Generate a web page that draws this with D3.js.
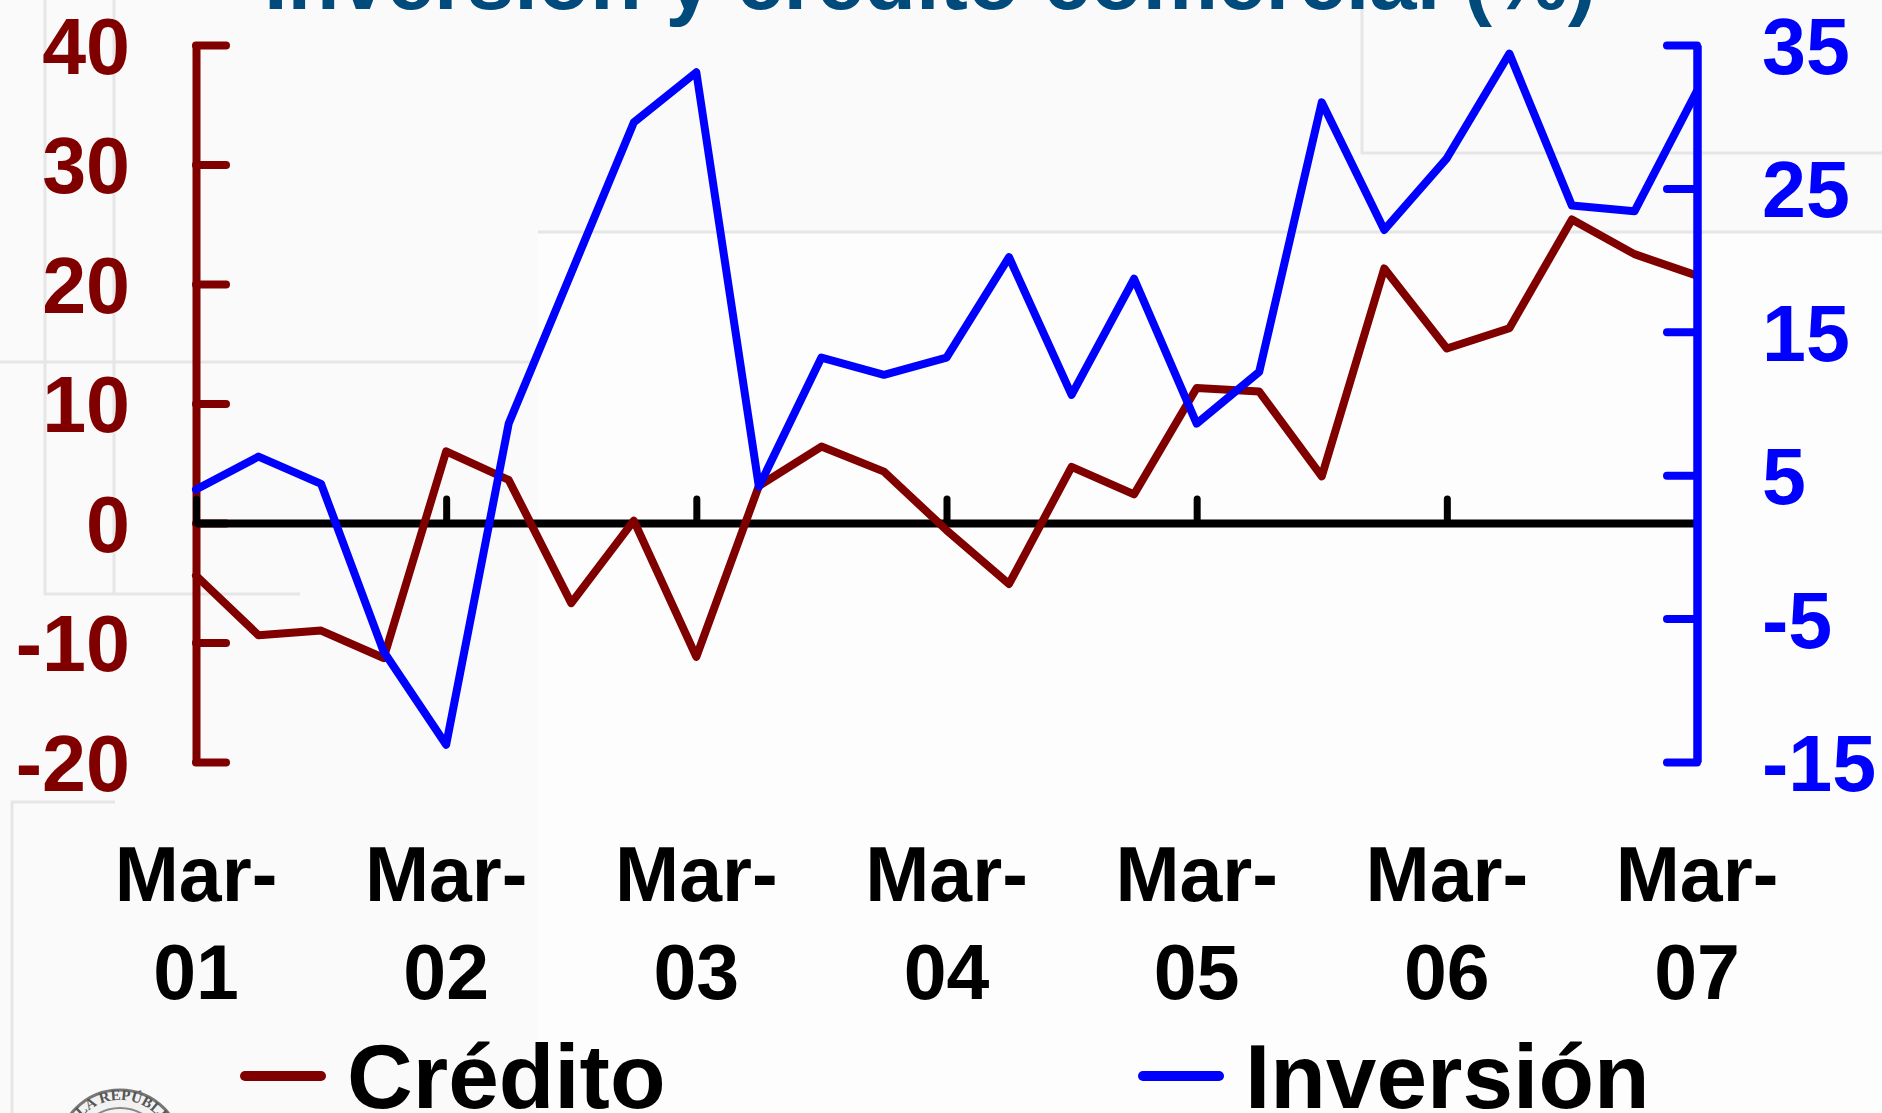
<!DOCTYPE html>
<html>
<head>
<meta charset="utf-8">
<script src="https://cdn.jsdelivr.net/npm/d3@7"></script>
<style>
  html, body { margin: 0; padding: 0; background: #fafafa; overflow: hidden; }
  svg { display: block; font-family: "Liberation Sans", Arial, sans-serif; font-weight: bold; }
</style>
</head>
<body>
<div id="container"></div>
<script>
const WIDTH = 1882;
const HEIGHT = 1113;

// quarterly, Mar-01 .. Mar-07
const quarters = [
  'Mar-01', 'Jun-01', 'Sep-01', 'Dic-01',
  'Mar-02', 'Jun-02', 'Sep-02', 'Dic-02',
  'Mar-03', 'Jun-03', 'Sep-03', 'Dic-03',
  'Mar-04', 'Jun-04', 'Sep-04', 'Dic-04',
  'Mar-05', 'Jun-05', 'Sep-05', 'Dic-05',
  'Mar-06', 'Jun-06', 'Sep-06', 'Dic-06',
  'Mar-07'
];

// Crédito comercial (%), left axis
const credito = [
  -4.4, -9.4, -9.0, -11.3,
  6.0, 3.6, -6.7, 0.2,
  -11.2, 3.1, 6.4, 4.3,
  -0.6, -5.1, 4.7, 2.4,
  11.3, 11.0, 3.9, 21.3,
  14.6, 16.3, 25.4, 22.5,
  20.7
];

// Inversión (%), right axis
const inversion = [
  4.0, 6.3, 4.4, -7.3,
  -13.8, 8.6, 19.1, 29.6,
  33.1, 4.2, 13.2, 12.0,
  13.2, 20.2, 10.6, 18.7,
  8.6, 12.2, 31.0, 22.1,
  27.1, 34.4, 23.8, 23.4,
  31.8
];

const leftTicks = [-20, -10, 0, 10, 20, 30, 40];
const rightTicks = [-15, -5, 5, 15, 25, 35];
const yearTicks = quarters.filter(q => q.startsWith('Mar'));

const title = 'Inversión y crédito comercial (%)';
const seriesNames = ['Crédito', 'Inversión'];

const RED = '#800000';
const BLUE = '#0000ff';

// plain hyphen for negatives, like the original
const fmt = d => String(d);

const svg = d3.select('#container')
  .append('svg')
  .attr('width', WIDTH)
  .attr('height', HEIGHT)
  .style('background-color', '#fafafa');

// faint slide background boxes
const bg = svg.append('g')
  .attr('fill', 'none')
  .attr('stroke', '#e6e6e6')
  .attr('stroke-width', 3);
bg.append('rect').attr('x', 538).attr('y', 232).attr('width', 1400).attr('height', 900)
  .attr('fill', '#fdfdfd').attr('stroke', 'none');
bg.append('path').attr('d', 'M538,232H1882');
bg.append('path').attr('d', 'M0,362H538');
bg.append('path').attr('d', 'M45,0V594H300');
bg.append('path').attr('d', 'M114,0V594');
bg.append('path').attr('d', 'M1362,0V153H1882');
bg.append('path').attr('d', 'M12,1113V802H115');

const x = d3.scalePoint()
  .domain(quarters)
  .range([196, 1697]);

const yLeft = d3.scaleLinear()
  .domain([-20, 40])
  .range([762, 45]);

const yRight = d3.scaleLinear()
  .domain([-15, 35])
  .range([762, 45]);

// title, mostly cut off at the top
svg.append('text')
  .attr('x', 930)
  .attr('y', 9)
  .attr('text-anchor', 'middle')
  .attr('font-size', 85)
  .attr('fill', '#004b7c')
  .text(title);

// left axis (ticks point inward)
const leftAxis = svg.append('g')
  .attr('transform', `translate(${x(quarters[0])},0)`)
  .call(d3.axisRight(yLeft).tickValues(leftTicks).tickSize(30).tickSizeOuter(0).tickFormat(fmt));
leftAxis.select('.domain').attr('stroke', RED).attr('stroke-width', 8);
leftAxis.selectAll('.tick line').attr('stroke', RED).attr('stroke-width', 8).attr('stroke-linecap', 'round');
leftAxis.selectAll('.tick text')
  .attr('x', -66)
  .attr('dy', '0.36em')
  .attr('text-anchor', 'end')
  .attr('font-family', '"Liberation Sans", Arial, sans-serif')
  .attr('font-weight', 'bold')
  .attr('font-size', 79)
  .attr('fill', RED);

// x axis at zero
const xAxis = svg.append('g')
  .attr('transform', `translate(0,${yLeft(0)})`)
  .call(d3.axisTop(x).tickValues(yearTicks).tickSize(24).tickSizeOuter(0).tickFormat(''));
xAxis.select('.domain').attr('stroke', 'black').attr('stroke-width', 8);
xAxis.selectAll('.tick line').attr('stroke', 'black').attr('stroke-width', 7).attr('stroke-linecap', 'round');

const xLabels = svg.append('g').selectAll('text')
  .data(yearTicks)
  .join('text')
  .attr('text-anchor', 'middle')
  .attr('font-size', 77)
  .attr('fill', 'black');
xLabels.append('tspan')
  .attr('x', d => x(d))
  .attr('y', 901)
  .text(d => d.slice(0, 4));
xLabels.append('tspan')
  .attr('x', d => x(d))
  .attr('y', 999)
  .text(d => d.slice(4));

// lines
const lineLeft = d3.line()
  .x((d, i) => x(quarters[i]))
  .y(d => yLeft(d));

const lineRight = d3.line()
  .x((d, i) => x(quarters[i]))
  .y(d => yRight(d));

svg.append('path')
  .datum(credito)
  .attr('d', lineLeft)
  .attr('fill', 'none')
  .attr('stroke', RED)
  .attr('stroke-width', 8)
  .attr('stroke-linejoin', 'round')
  .attr('stroke-linecap', 'round');

svg.append('path')
  .datum(inversion)
  .attr('d', lineRight)
  .attr('fill', 'none')
  .attr('stroke', BLUE)
  .attr('stroke-width', 8)
  .attr('stroke-linejoin', 'round')
  .attr('stroke-linecap', 'round');

// right axis (ticks point inward)
const rightAxis = svg.append('g')
  .attr('transform', `translate(${x(quarters[quarters.length - 1])},0)`)
  .call(d3.axisLeft(yRight).tickValues(rightTicks).tickSize(30).tickSizeOuter(0).tickFormat(fmt));
rightAxis.select('.domain').attr('stroke', BLUE).attr('stroke-width', 8.5);
rightAxis.selectAll('.tick line').attr('stroke', BLUE).attr('stroke-width', 8).attr('stroke-linecap', 'round');
rightAxis.selectAll('.tick text')
  .attr('x', 65)
  .attr('dy', '0.36em')
  .attr('text-anchor', 'start')
  .attr('font-family', '"Liberation Sans", Arial, sans-serif')
  .attr('font-weight', 'bold')
  .attr('font-size', 79)
  .attr('fill', BLUE);

// legend
const legend = svg.append('g');
const legendItems = [
  { name: seriesNames[0], color: RED, x: 240 },
  { name: seriesNames[1], color: BLUE, x: 1138 }
];
legendItems.forEach(item => {
  legend.append('line')
    .attr('x1', item.x + 5)
    .attr('x2', item.x + 81)
    .attr('y1', 1076)
    .attr('y2', 1076)
    .attr('stroke', item.color)
    .attr('stroke-width', 10)
    .attr('stroke-linecap', 'round');
  legend.append('text')
    .attr('x', item.x + 107)
    .attr('y', 1108)
    .attr('font-size', 91)
    .attr('fill', 'black')
    .text(item.name);
});

// seal in the bottom-left corner, mostly cut off
const seal = svg.append('g').attr('transform', 'translate(120,1152)');
seal.append('circle').attr('r', 62).attr('fill', '#f2f2f2').attr('stroke', '#777').attr('stroke-width', 3);
seal.append('circle').attr('r', 44).attr('fill', 'none').attr('stroke', '#888').attr('stroke-width', 2);
seal.append('path')
  .attr('id', 'sealArc')
  .attr('d', 'M-52,0A52,52 0 0,1 52,0')
  .attr('fill', 'none');
seal.append('text')
  .attr('font-family', '"Liberation Serif", serif')
  .attr('font-size', 15)
  .attr('fill', '#555')
  .append('textPath')
  .attr('href', '#sealArc')
  .attr('startOffset', '50%')
  .attr('text-anchor', 'middle')
  .text('DE LA REPÚBLICA');
</script>
</body>
</html>
